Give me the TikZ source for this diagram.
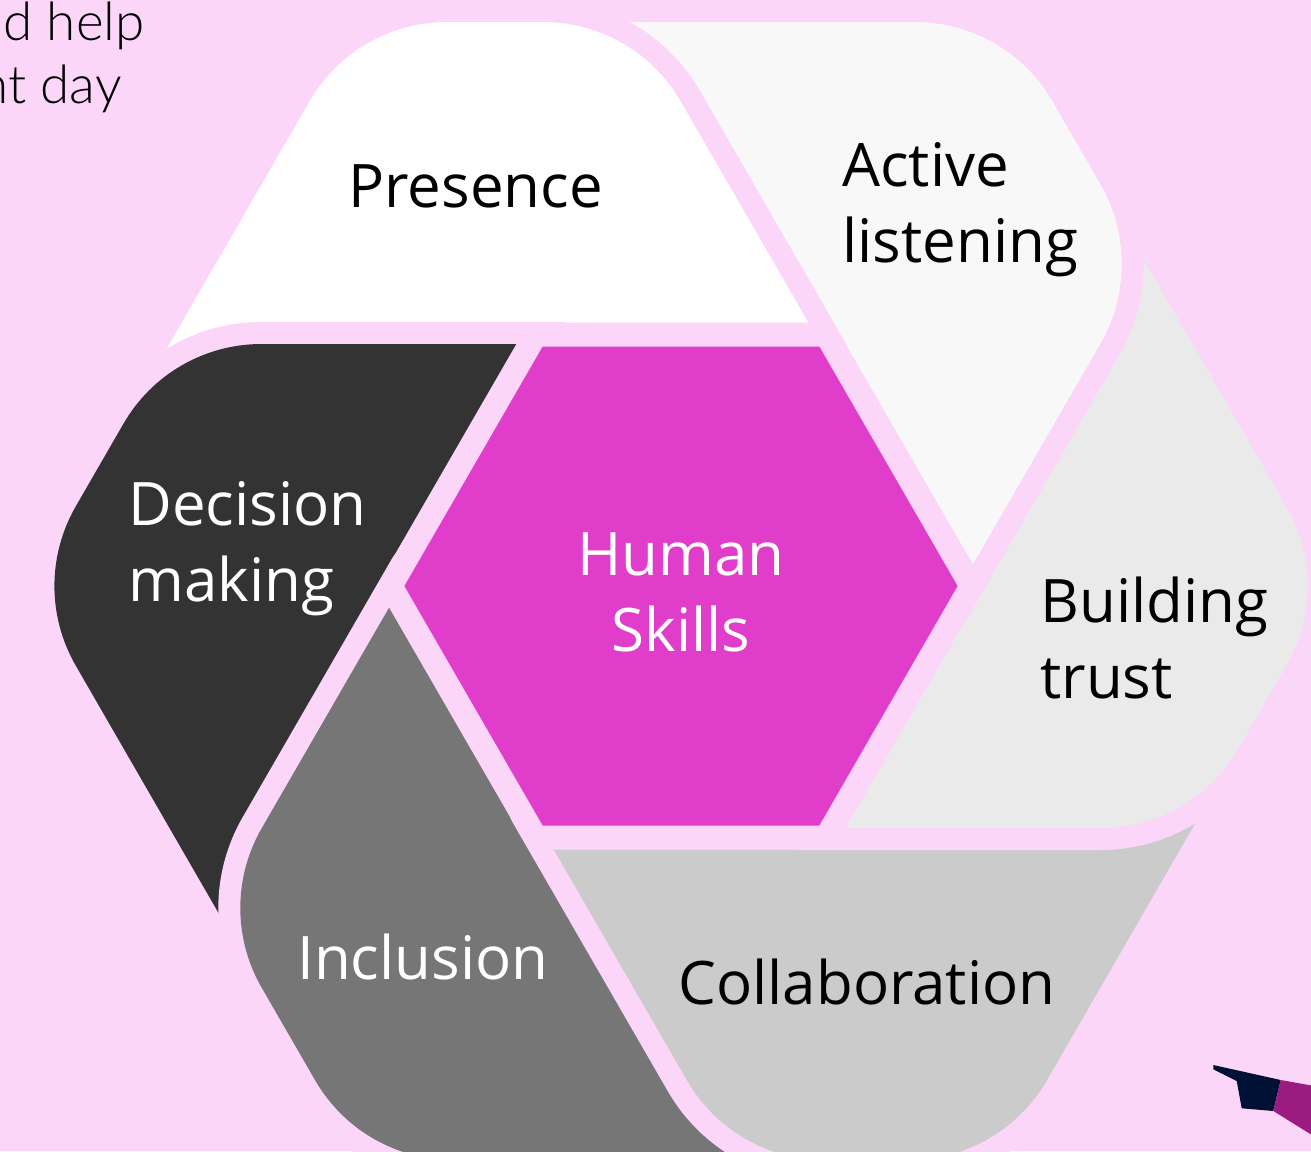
\documentclass[tikz,border=0pt]{standalone}
\usepackage{fontspec}
\setmainfont{Open Sans}
\newfontfamily\introfont{Lato Light}
\usetikzlibrary{calc}

\definecolor{bgpink}{RGB}{252,214,249}
\definecolor{hub}{RGB}{224,61,203}
\definecolor{cPresence}{RGB}{255,255,255}
\definecolor{cActive}{RGB}{248,248,248}
\definecolor{cTrust}{RGB}{234,234,234}
\definecolor{cCollab}{RGB}{203,203,203}
\definecolor{cIncl}{RGB}{118,118,118}
\definecolor{cDecision}{RGB}{51,51,51}
\definecolor{navy}{RGB}{0,17,53}
\definecolor{plum}{RGB}{155,27,128}

% one ring segment: sharp inner tip #1, rounded corners at #2 and #3, sharp outer tip #4
\newcommand\petalpath[4]{(#1) -- ($(#2)!46pt!(#1)$)
  .. controls ($(#2)!17.5pt!(#1)$) and ($(#2)!17.5pt!(#3)$) .. ($(#2)!46pt!(#3)$)
  -- ($(#3)!46pt!(#2)$)
  .. controls ($(#3)!17.5pt!(#2)$) and ($(#3)!17.5pt!(#4)$) .. ($(#3)!46pt!(#4)$)
  -- (#4) -- cycle}

\begin{document}
\begin{tikzpicture}[x=0.5pt,y=-0.5pt,
  piece/.style={fill=#1, preaction={draw=bgpink, line width=22pt, line join=round}},
  hubshape/.style={fill=hub, preaction={draw=bgpink, line width=24pt, line join=round}},
  skilltext/.style={font=\fontsize{30}{38}\selectfont, inner sep=0pt, anchor=base west},
  introtext/.style={font=\introfont\fontsize{26.5}{31}\selectfont, inner sep=0pt, anchor=base west},
]
\useasboundingbox (0,0) rectangle (1311,1151);
\clip (0,0) rectangle (1311,1151);
\fill[bgpink] (0,0) rectangle (1311,1151);

% corner points of the six segments
\coordinate (PT) at (830.54,361);   \coordinate (PA) at (634.81,22);
\coordinate (PO) at (355.4,22);     \coordinate (PB) at (159.64,361);
\coordinate (DT) at (560.92,344);   \coordinate (DA) at (169.48,344);
\coordinate (DO) at (29.8,586);     \coordinate (DB) at (225.47,924.99);
\coordinate (IT) at (411.39,568.99);\coordinate (IA) at (215.67,907.98);
\coordinate (IO) at (361.2,1160);   \coordinate (IB) at (752.6,1160);
\coordinate (CT) at (531.46,811);   \coordinate (CA) at (732.96,1160);
\coordinate (CO) at (1000.9,1160);  \coordinate (CB) at (1202.32,811);
\coordinate (BT) at (801.08,828);   \coordinate (BA) at (1192.52,828);
\coordinate (BO) at (1332.2,586);   \coordinate (BB) at (1136.53,247.01);
\coordinate (AT) at (950.61,603.01);\coordinate (AA) at (1146.33,264.02);
\coordinate (AO) at (1006.6,22);    \coordinate (AB) at (615.21,22);

% centre hexagon corners
\coordinate (H0) at (957.6,586);  \coordinate (H1) at (819.3,346.5);
\coordinate (H2) at (542.7,346.5);\coordinate (H3) at (404.4,586);
\coordinate (H4) at (542.7,825.5);\coordinate (H5) at (819.3,825.5);

% ring segments, each one tucked under the next
\path[piece=cPresence] \petalpath{PT}{PA}{PO}{PB};
\path[piece=cDecision] \petalpath{DT}{DA}{DO}{DB};
\path[piece=cIncl]     \petalpath{IT}{IA}{IO}{IB};
\path[piece=cCollab]   \petalpath{CT}{CA}{CO}{CB};
\path[piece=cTrust]    \petalpath{BT}{BA}{BO}{BB};
\path[piece=cActive]   \petalpath{AT}{AA}{AO}{AB};
% the top segment's right corner lies over the upper-right segment
\begin{scope}
  \clip (590,0) rectangle (1000,346);
  \path[piece=cPresence] \petalpath{PT}{PA}{PO}{PB};
\end{scope}

% centre hexagon
\path[hubshape] (H0) -- (H1) -- (H2) -- (H3) -- (H4) -- (H5) -- cycle;

% labels
\node[skilltext] (presence) at (348,207) {Presence};
\node[skilltext] (active) at (842,186) {\begin{tabular}[t]{@{}l@{}}Active\\listening\end{tabular}};
\node[skilltext] (trust) at (1040,622) {\begin{tabular}[t]{@{}l@{}}Building\\trust\end{tabular}};
\node[skilltext] (collab) at (678,1004) {Collaboration};
\node[skilltext, text=white] (incl) at (297,979) {Inclusion};
\node[skilltext, text=white] (decision) at (128,525) {\begin{tabular}[t]{@{}l@{}}Decision\\making\end{tabular}};
\node[skilltext, text=white, anchor=base] (human) at (681,575) {\begin{tabular}[t]{@{}c@{}}Human\\Skills\end{tabular}};

% text running in from the left edge
\node[introtext] (intro1) at (3,40) {d help};
\node[introtext] (intro2) at (-21,103) {nt day};

% corner ornament
\fill[navy] (1213.3,1065) -- (1280.7,1080) -- (1273.3,1111) -- (1241.7,1108.3)
  -- (1236.7,1081) -- (1213.3,1069.3) -- cycle;
\fill[plum] (1280.7,1080) -- (1320,1087) -- (1320,1140) -- (1273.3,1111) -- cycle;
\end{tikzpicture}
\end{document}
